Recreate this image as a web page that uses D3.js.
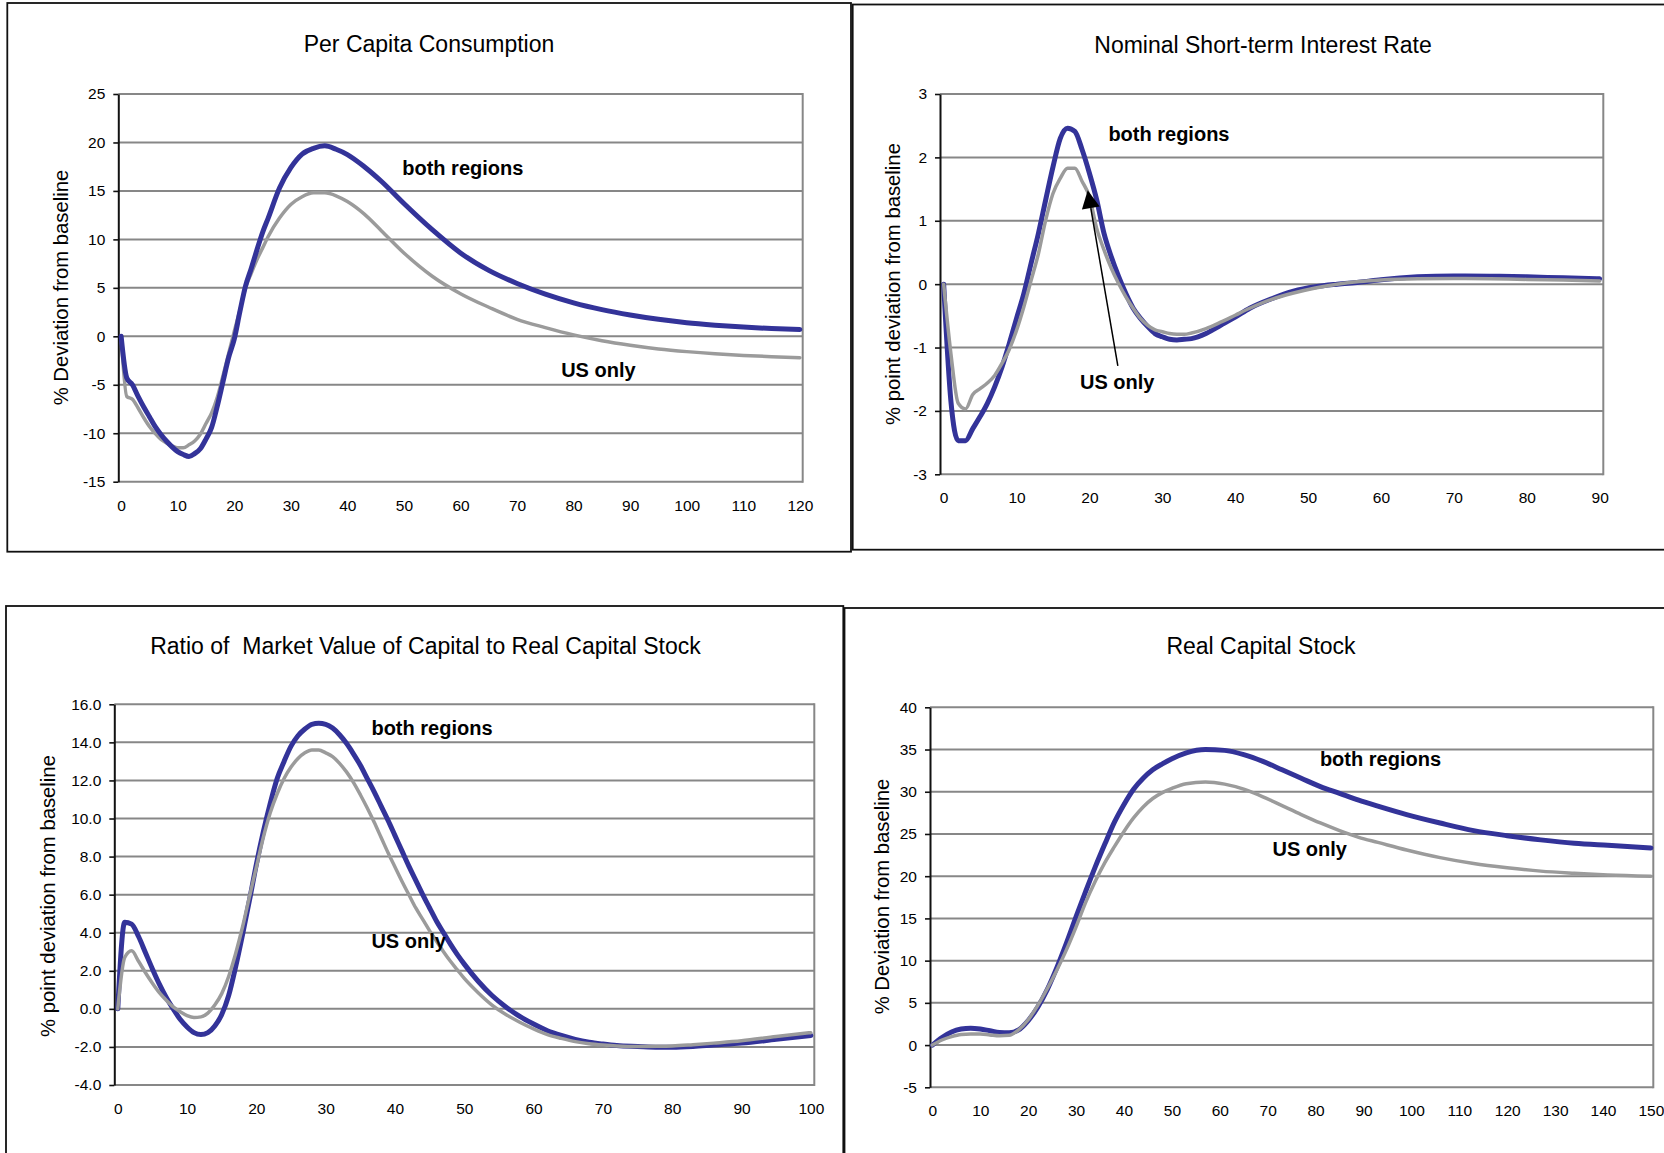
<!DOCTYPE html>
<html><head><meta charset="utf-8">
<script src="https://cdn.jsdelivr.net/npm/d3@7"></script>
<style>
body{margin:0;background:#fff}
svg{display:block}
text{font-family:"Liberation Sans",Arial,Helvetica,sans-serif;fill:#000}
</style>
</head><body>
<svg id="c" width="1664" height="1153"></svg>
<script>
// ---------- Panel 1: Per Capita Consumption ----------
const p1Periods = [0,1,2,3,4,5,6,7,8,9,10,11,12,13,14,15,16,17,18,19,20,21,22,23,24,25,26,28,30,32,34,36,38,40,43,46,50,55,60,65,70,75,80,85,90,95,100,105,110,115,120];
const p1Both = [0,-4.3,-5.0,-6.2,-7.3,-8.3,-9.3,-10.1,-10.8,-11.4,-11.9,-12.2,-12.4,-12.1,-11.6,-10.6,-9.4,-7.2,-4.7,-2.2,-0.3,2.55,5.2,7.0,8.9,10.7,12.2,15.3,17.4,18.8,19.4,19.65,19.3,18.75,17.5,16.0,13.7,11.0,8.6,6.8,5.45,4.35,3.45,2.75,2.2,1.75,1.4,1.15,0.95,0.8,0.7];
const p1US = [0,-6.2,-6.5,-7.4,-8.4,-9.3,-10.0,-10.6,-11.0,-11.3,-11.5,-11.5,-11.2,-10.8,-10.1,-9.0,-7.9,-6.3,-4.1,-1.8,0.5,2.7,5.0,6.5,7.9,9.1,10.3,12.2,13.6,14.4,14.8,14.8,14.5,13.9,12.6,10.9,8.6,6.2,4.4,3.0,1.75,0.9,0.15,-0.45,-0.92,-1.3,-1.58,-1.8,-1.97,-2.1,-2.2];
const p1YTicks = [-15,-10,-5,0,5,10,15,20,25];
const p1YLabels = ["-15","-10","-5","0","5","10","15","20","25"];
const p1XTicks = [0,10,20,30,40,50,60,70,80,90,100,110,120];

// ---------- Panel 2: Nominal Short-term Interest Rate ----------
const p2Periods = [0,1,2,3,4,5,6,7,8,9,10,11,12,13,14,15,16,17,18,19,20,21,22,23,24,25,26,27,28,29,30,31,32,33,34,36,38,40,42,45,48,51,54,57,60,65,70,75,80,85,90];
const p2Both = [0,-1.85,-2.47,-2.47,-2.28,-2.09,-1.88,-1.62,-1.31,-0.94,-0.54,-0.15,0.33,0.8,1.33,1.85,2.3,2.46,2.41,2.12,1.75,1.33,0.8,0.43,0.12,-0.15,-0.38,-0.54,-0.67,-0.78,-0.83,-0.87,-0.88,-0.87,-0.86,-0.78,-0.65,-0.52,-0.38,-0.23,-0.11,-0.04,0.0,0.03,0.07,0.115,0.13,0.125,0.115,0.1,0.085];
const p2US = [0,-1.1,-1.88,-1.97,-1.74,-1.65,-1.56,-1.44,-1.25,-1.03,-0.73,-0.36,0.06,0.48,1.01,1.43,1.67,1.83,1.83,1.62,1.38,0.88,0.54,0.25,0.01,-0.2,-0.38,-0.54,-0.65,-0.72,-0.75,-0.78,-0.79,-0.79,-0.77,-0.7,-0.6,-0.49,-0.38,-0.24,-0.14,-0.06,0.0,0.04,0.065,0.085,0.09,0.085,0.075,0.065,0.05];
const p2YTicks = [-3,-2,-1,0,1,2,3];
const p2YLabels = ["-3","-2","-1","0","1","2","3"];
const p2XTicks = [0,10,20,30,40,50,60,70,80,90];

// ---------- Panel 3: Ratio of Market Value of Capital to Real Capital Stock ----------
const p3Periods = [0,1,2,3,4,5,6,7,8,9,10,11,12,13,14,15,16,17,18,19,20,21,22,23,24,25,26,27,28,29,30,31,32,33,34,35,36,37,38,39,40,41,42,43,44,45,46,47,48,49,50,52,54,56,58,60,62,64,66,68,70,72,75,78,80,83,86,90,95,100];
const p3Both = [0,4.55,4.45,3.8,2.95,2.1,1.3,0.6,0.0,-0.55,-0.95,-1.25,-1.35,-1.25,-0.9,-0.3,0.7,2.2,3.9,5.7,7.6,9.3,10.8,12.1,13.0,13.8,14.35,14.7,14.95,15.0,14.95,14.75,14.4,13.95,13.4,12.8,12.1,11.4,10.65,9.9,9.1,8.3,7.5,6.75,6.0,5.3,4.6,4.0,3.4,2.85,2.35,1.45,0.7,0.1,-0.4,-0.8,-1.15,-1.4,-1.6,-1.75,-1.85,-1.93,-1.98,-2.02,-2.02,-1.98,-1.9,-1.8,-1.6,-1.4];
const p3US = [0,2.7,3.05,2.5,1.9,1.35,0.85,0.45,0.1,-0.15,-0.35,-0.45,-0.42,-0.22,0.2,0.8,1.7,2.9,4.3,5.9,7.45,9.0,10.3,11.3,12.1,12.7,13.15,13.45,13.6,13.6,13.45,13.25,12.9,12.45,11.9,11.25,10.55,9.8,9.0,8.2,7.45,6.7,6.0,5.3,4.7,4.1,3.55,3.0,2.5,2.05,1.6,0.85,0.2,-0.3,-0.7,-1.05,-1.35,-1.55,-1.72,-1.83,-1.9,-1.95,-1.98,-1.97,-1.95,-1.88,-1.8,-1.68,-1.45,-1.25];
const p3YTicks = [-4,-2,0,2,4,6,8,10,12,14,16];
const p3YLabels = ["-4.0","-2.0","0.0","2.0","4.0","6.0","8.0","10.0","12.0","14.0","16.0"];
const p3XTicks = [0,10,20,30,40,50,60,70,80,90,100];

// ---------- Panel 4: Real Capital Stock ----------
const p4Periods = [0,2,4,6,8,10,12,14,16,18,20,22,24,26,28,30,32,34,36,38,40,42,44,46,48,50,53,57,61,65,69,73,77,81,85,89,93,99,106,113,120,127,134,141,150];
const p4Both = [0,0.9,1.55,1.9,2.0,1.9,1.7,1.5,1.45,1.8,2.9,4.5,6.6,9.2,12.1,15.2,18.2,21.1,23.8,26.4,28.5,30.3,31.6,32.6,33.3,33.9,34.6,35.0,34.9,34.4,33.6,32.6,31.6,30.6,29.8,29.0,28.3,27.3,26.3,25.4,24.8,24.3,23.9,23.65,23.35];
const p4US = [0,0.6,1.0,1.25,1.3,1.3,1.2,1.1,1.15,1.8,3.0,4.7,6.7,8.9,11.3,14.0,16.9,19.4,21.6,23.5,25.3,26.9,28.2,29.2,29.9,30.4,30.95,31.15,30.9,30.3,29.4,28.35,27.3,26.3,25.4,24.6,24.0,23.1,22.2,21.5,21.0,20.6,20.35,20.15,20.0];
const p4YTicks = [-5,0,5,10,15,20,25,30,35,40];
const p4YLabels = ["-5","0","5","10","15","20","25","30","35","40"];
const p4XTicks = [0,10,20,30,40,50,60,70,80,90,100,110,120,130,140,150];

const titles = ["Per Capita Consumption","Nominal Short-term Interest Rate","Ratio of  Market Value of Capital to Real Capital Stock","Real Capital Stock"];
const yTitles = ["% Deviation from baseline","% point deviation from baseline","% point deviation from baseline","% Deviation from baseline"];
const seriesNames = ["both regions","US only"];

const BLUE = "#333399", GREY = "#9b9b9b", GRID = "#878787";

const panels = [
  {periods:p1Periods, both:p1Both, us:p1US, yTicks:p1YTicks, yLabels:p1YLabels, xTicks:p1XTicks, n:121,
   frame:[7.3,3,851,551.7], l:118.3, r:802.7, t:94, b:481.7,
   title:titles[0], titleX:429, titleY:51.5, yTitle:yTitles[0], yTitleX:61, yTitleY:287.5,
   blueTop:true, lblBoth:[49.7,16.6], lblUS:[77.8,-4.2]},
  {periods:p2Periods, both:p2Both, us:p2US, yTicks:p2YTicks, yLabels:p2YLabels, xTicks:p2XTicks, n:91,
   frame:[852.7,4.5,1700,549.7], l:940, r:1603.3, t:94, b:474.3,
   title:titles[1], titleX:1263, titleY:52.5, yTitle:yTitles[1], yTitleX:893.3, yTitleY:284,
   blueTop:false, lblBoth:[22.6,2.26], lblUS:[18.7,-1.65], arrow:{from:[23.9,-1.29], to:[19.77,1.48]}},
  {periods:p3Periods, both:p3Both, us:p3US, yTicks:p3YTicks, yLabels:p3YLabels, xTicks:p3XTicks, n:101,
   frame:[6,606,843.3,1200], l:114.3, r:814.3, t:704.3, b:1085,
   title:titles[2], titleX:425.5, titleY:654, yTitle:yTitles[2], yTitleX:47.7, yTitleY:896,
   blueTop:false, lblBoth:[36.6,14.4], lblUS:[36.6,3.2]},
  {periods:p4Periods, both:p4Both, us:p4US, yTicks:p4YTicks, yLabels:p4YLabels, xTicks:p4XTicks, n:151,
   frame:[844.5,608,1700,1200], l:930, r:1653.3, t:707.3, b:1087.3,
   title:titles[3], titleX:1261, titleY:654, yTitle:yTitles[3], yTitleX:881.7, yTitleY:896.5,
   blueTop:false, lblBoth:[80.9,33.0], lblUS:[71.0,22.4]}
];

const svg = d3.select("#c");

panels.forEach(p => {
  const g = svg.append("g");
  g.append("rect")
    .attr("x", p.frame[0]).attr("y", p.frame[1])
    .attr("width", p.frame[2]-p.frame[0]).attr("height", p.frame[3]-p.frame[1])
    .attr("fill","none").attr("stroke","#111").attr("stroke-width",1.8);

  g.append("text").attr("x", p.titleX).attr("y", p.titleY)
    .attr("text-anchor","middle").style("font-size","23px").style("white-space","pre")
    .text(p.title);

  g.append("text")
    .attr("transform", `translate(${p.yTitleX},${p.yTitleY}) rotate(-90)`)
    .attr("text-anchor","middle").attr("dy","0.35em")
    .style("font-size","20.3px").text(p.yTitle);

  const x = d3.scaleLinear().domain([-0.5, p.n-0.5]).range([p.l, p.r]);
  const y = d3.scaleLinear().domain([p.yTicks[0], p.yTicks[p.yTicks.length-1]]).range([p.b, p.t]);

  // gridlines
  g.append("g").selectAll("line").data(p.yTicks).join("line")
    .attr("x1", p.l).attr("x2", p.r)
    .attr("y1", d => y(d)).attr("y2", d => y(d))
    .attr("stroke", GRID).attr("stroke-width", 2);
  // right border of plot area
  g.append("line").attr("x1", p.r).attr("x2", p.r).attr("y1", p.t-1).attr("y2", p.b+1)
    .attr("stroke", GRID).attr("stroke-width", 2);

  // y axis
  const ya = d3.axisLeft(y).tickValues(p.yTicks)
    .tickFormat((d,i) => p.yLabels[i]).tickSize(5).tickSizeOuter(0).tickPadding(8);
  const yg = g.append("g").attr("transform", `translate(${p.l},0)`).call(ya);
  yg.select(".domain").attr("stroke","#111").attr("stroke-width",2);
  yg.selectAll(".tick line").attr("stroke","#111").attr("stroke-width",1.6);
  yg.selectAll("text").style("font-size","15.5px").attr("fill","#000");

  // x axis (labels only)
  const xa = d3.axisBottom(x).tickValues(p.xTicks).tickSize(0).tickPadding(18);
  const xg = g.append("g").attr("transform", `translate(0,${p.b})`).call(xa);
  xg.select(".domain").remove();
  xg.selectAll("text").style("font-size","15.5px").attr("fill","#000");

  const line = d3.line().x(d => x(d[0])).y(d => y(d[1])).curve(d3.curveMonotoneX);
  const blueData = p.periods.map((t,i) => [t, p.both[i]]);
  const greyData = p.periods.map((t,i) => [t, p.us[i]]);
  const order = p.blueTop ? [[greyData,GREY,3.5],[blueData,BLUE,5]] : [[blueData,BLUE,5],[greyData,GREY,3.5]];
  order.forEach(([data,col,w]) => {
    g.append("path").datum(data).attr("d", line)
      .attr("fill","none").attr("stroke", col).attr("stroke-width", w)
      .attr("stroke-linejoin","round").attr("stroke-linecap","round");
  });

  // annotations
  g.append("text").attr("x", x(p.lblBoth[0])).attr("y", y(p.lblBoth[1]))
    .style("font-size","20px").style("font-weight","bold").text(seriesNames[0]);
  g.append("text").attr("x", x(p.lblUS[0])).attr("y", y(p.lblUS[1]))
    .style("font-size","20px").style("font-weight","bold").text(seriesNames[1]);

  if (p.arrow) {
    const x0 = x(p.arrow.from[0]), y0 = y(p.arrow.from[1]);
    const x1 = x(p.arrow.to[0]), y1 = y(p.arrow.to[1]);
    const len = Math.hypot(x1-x0, y1-y0), ux = (x1-x0)/len, uy = (y1-y0)/len;
    const hl = 18, hw = 9;
    const bx = x1 - ux*hl, by = y1 - uy*hl;
    g.append("line").attr("x1", x0).attr("y1", y0).attr("x2", bx).attr("y2", by)
      .attr("stroke","#000").attr("stroke-width",1.5);
    g.append("path")
      .attr("d", `M${x1},${y1}L${bx - uy*hw},${by + ux*hw}L${bx + uy*hw},${by - ux*hw}Z`)
      .attr("fill","#000");
  }
});
</script>
</body></html>
